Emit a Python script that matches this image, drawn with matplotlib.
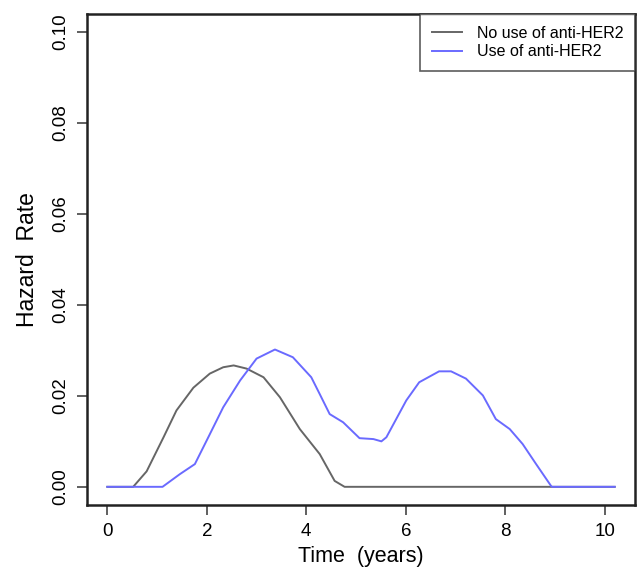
import matplotlib
matplotlib.use("Agg")
import matplotlib.pyplot as plt

no_her2_x = [0, 0.52, 0.79, 1.13, 1.39, 1.73, 2.06, 2.33, 2.54, 2.80, 3.14, 3.47, 3.87, 4.27, 4.57, 4.77, 10.2]
no_her2_y = [0, 0, 0.0034, 0.0109, 0.0168, 0.0218, 0.0249, 0.0263, 0.0267, 0.0260, 0.0241, 0.0197, 0.0127, 0.0072, 0.0013, 0, 0]

her2_x = [0, 1.11, 1.46, 1.76, 2.03, 2.33, 2.67, 3.0, 3.37, 3.73, 4.10, 4.27, 4.47, 4.74, 5.07, 5.35, 5.51,
          5.61, 6.01, 6.27, 6.67, 6.91, 7.21, 7.55, 7.81, 8.09, 8.35, 8.62, 8.92, 8.94, 10.2]
her2_y = [0, 0, 0.0028, 0.005, 0.0109, 0.0175, 0.0234, 0.0282, 0.0302, 0.0285, 0.0241, 0.0204, 0.016, 0.0142,
          0.0107, 0.0105, 0.0100, 0.0109, 0.019, 0.023, 0.0254, 0.0254, 0.0238, 0.0201, 0.0149, 0.0127, 0.0094,
          0.005, 0.0002, 0, 0]

labels = ["No use of anti-HER2", "Use of anti-HER2"]
xticks = [0, 2, 4, 6, 8, 10]
yticks = [0.0, 0.02, 0.04, 0.06, 0.08, 0.10]

plt.rcParams["font.family"] = ["Liberation Sans", "DejaVu Sans"]

fig = plt.figure(figsize=(6.38, 5.68), dpi=100)
ax = fig.add_axes([0.1364, 0.1109, 0.8589, 0.8645])
ax.plot(no_her2_x, no_her2_y, color="#666666", lw=1.4, label=labels[0])
ax.plot(her2_x, her2_y, color="#6a6aff", lw=1.4, label=labels[1])

ax.set_xlim(-0.408, 10.608)
ax.set_ylim(-0.004, 0.104)
ax.set_xticks(xticks)
ax.set_xticklabels([str(t) for t in xticks])
ax.set_yticks(yticks)
ax.set_yticklabels(["%.2f" % t for t in yticks], rotation=90, va="center")
ax.tick_params(direction="out", length=7, width=1.2, labelsize=13.5, color="#444444", pad=6)
for s in ax.spines.values():
    s.set_linewidth(1.8)
    s.set_color("#222222")
ax.set_xlabel("Time  (years)", fontsize=15.5, labelpad=4)
ax.set_ylabel("Hazard  Rate", fontsize=16.5, labelpad=9)

leg = ax.legend(loc="upper right", fontsize=11.5, frameon=True, fancybox=False,
                borderaxespad=0, handlelength=1.9, handletextpad=0.9,
                labelspacing=0.22, borderpad=0.75)
leg.get_frame().set_edgecolor("#333333")
leg.get_frame().set_linewidth(1.2)

fig.savefig("out.png", dpi=100)
